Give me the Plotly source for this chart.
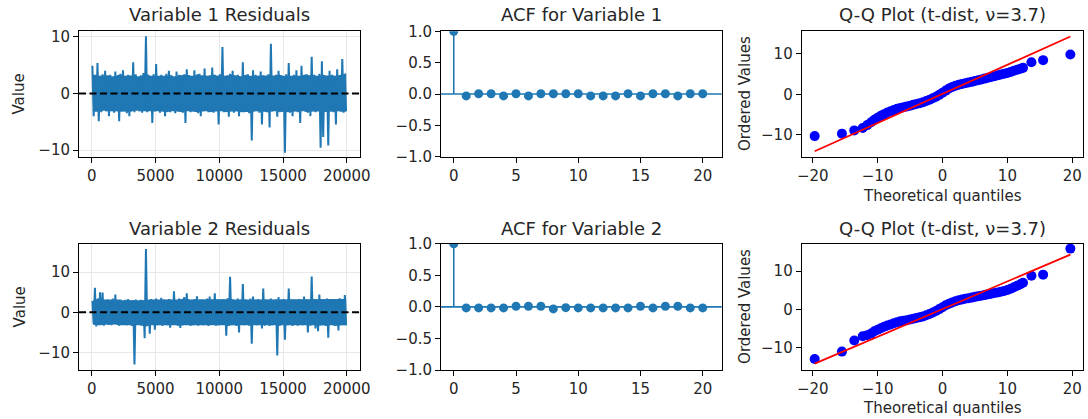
import plotly.graph_objects as go

W, H = 1088, 419

# ---------------- data ----------------
bin_size = 200  # samples per envelope bin (20000 samples / 100 bins)

v1_hi = [4.9, 3.2, 5.4, 3.0, 3.4, 4.0, 3.1, 3.3, 2.9, 3.9,
         3.2, 3.5, 4.1, 3.0, 3.3, 3.1, 5.5, 3.4, 2.9, 3.2,
         3.6, 10.1, 3.3, 3.0, 3.4, 5.2, 3.1, 3.3, 3.0, 3.5,
         4.0, 3.2, 2.9, 3.9, 3.3, 3.1, 3.4, 4.3, 3.2, 3.0,
         4.1, 3.3, 3.5, 3.1, 4.4, 3.0, 3.2, 4.6, 3.3, 3.1,
         3.4, 8.2, 3.0, 3.2, 3.5, 4.0, 3.1, 3.3, 2.9, 5.5,
         3.2, 3.4, 3.0, 4.1, 3.3, 3.1, 3.9, 3.2, 3.0, 3.4,
         8.8, 3.1, 3.3, 4.0, 3.2, 3.0, 3.4, 5.4, 3.1, 3.3,
         4.1, 3.0, 4.9, 3.2, 3.4, 3.1, 6.5, 3.3, 3.0, 3.5,
         5.7, 3.2, 3.1, 4.0, 3.3, 3.0, 4.3, 3.2, 6.1, 3.4]
v1_lo = [-4.0, -3.1, -4.9, -3.3, -2.9, -3.2, -4.0, -3.0, -3.4, -3.1,
         -4.9, -3.2, -3.0, -3.5, -4.0, -3.1, -3.3, -2.9, -3.2, -3.4,
         -3.0, -3.3, -3.1, -5.2, -3.2, -3.0, -3.4, -3.1, -4.0, -3.2,
         -3.3, -3.0, -3.5, -3.1, -3.2, -3.4, -5.2, -3.0, -3.3, -3.1,
         -3.2, -3.5, -4.0, -3.1, -3.0, -3.3, -3.2, -3.4, -3.1, -5.5,
         -3.0, -3.3, -3.2, -4.1, -3.1, -3.4, -3.0, -4.0, -3.2, -3.3,
         -3.1, -3.5, -8.3, -3.2, -3.0, -3.4, -5.5, -3.1, -3.3, -6.0,
         -3.2, -3.0, -4.1, -3.3, -3.1, -10.5, -3.2, -3.4, -4.0, -3.1,
         -3.3, -5.2, -3.0, -3.2, -3.4, -4.0, -3.1, -3.3, -3.0, -9.6,
         -7.7, -3.2, -9.2, -3.1, -3.3, -5.5, -3.0, -3.2, -3.4, -3.1]

v2_hi = [2.8, 6.1, 3.3, 5.0, 4.9, 3.0, 3.2, 2.9, 3.4, 4.4,
         3.0, 3.2, 2.8, 3.1, 3.3, 2.9, 3.0, 3.2, 2.8, 3.1,
         2.9, 15.7, 3.0, 3.3, 3.1, 3.4, 3.0, 3.6, 3.2, 3.0,
         3.3, 3.1, 5.2, 3.0, 3.4, 3.2, 3.8, 4.7, 3.1, 3.0,
         3.3, 4.0, 3.1, 3.2, 3.0, 3.4, 3.9, 3.1, 4.7, 3.2,
         3.0, 3.3, 3.1, 3.5, 8.8, 3.2, 3.0, 3.4, 3.1, 7.0,
         3.2, 3.0, 3.4, 3.9, 3.1, 3.3, 3.0, 5.9, 3.2, 3.1,
         3.4, 3.0, 3.2, 3.8, 3.1, 3.3, 3.0, 5.9, 3.2, 3.1,
         3.0, 3.3, 3.1, 3.9, 3.2, 3.0, 8.9, 3.3, 3.1, 4.4,
         3.2, 3.0, 3.4, 3.1, 3.3, 3.0, 3.2, 3.5, 3.1, 4.3]
v2_lo = [-2.9, -3.5, -3.2, -3.0, -3.3, -2.9, -3.1, -3.2, -2.8, -3.0,
         -3.3, -3.1, -2.9, -3.2, -3.0, -3.4, -12.9, -3.1, -3.0, -3.2,
         -6.4, -3.3, -5.3, -3.0, -4.3, -3.2, -3.1, -3.4, -3.0, -3.2,
         -3.8, -3.1, -3.0, -3.3, -3.9, -3.2, -3.0, -3.1, -3.4, -3.2,
         -3.0, -3.3, -3.1, -3.2, -3.0, -3.4, -3.1, -3.0, -3.3, -3.2,
         -3.1, -3.0, -5.8, -3.3, -3.2, -3.0, -3.4, -5.0, -3.1, -3.2,
         -3.0, -3.3, -7.8, -3.1, -3.2, -3.0, -4.0, -3.3, -3.1, -3.4,
         -3.2, -3.0, -10.7, -3.3, -3.1, -6.8, -3.2, -3.0, -3.4, -3.1,
         -3.3, -3.0, -3.2, -3.1, -5.0, -3.3, -3.0, -4.0, -4.7, -3.2,
         -3.1, -3.4, -6.3, -3.0, -3.2, -3.3, -4.5, -3.1, -3.0, -3.2]

acf1 = [1.0, -0.03, 0.005, 0.005, -0.03, 0.005, -0.03, 0.005, 0.005, 0.005, 0.005,
        -0.03, -0.03, -0.03, 0.005, -0.03, 0.005, 0.005, -0.03, 0.005, 0.005]
acf2 = [1.0, -0.016, -0.016, -0.016, -0.016, 0.01, 0.01, 0.01, -0.032, -0.012, -0.016,
        -0.016, -0.016, -0.016, -0.016, 0.01, -0.016, 0.01, 0.01, -0.016, -0.016]

qq1_theo = [-19.7, -15.5, -13.6, -12.3, -11.6, -11.0, -10.5, -10.0, -9.5, -9.0,
            -8.5, -8.0, -7.5, -7.0, -6.5, -6.0, -5.5, -5.0, -4.5, -4.0,
            -3.5, -3.0, -2.5, -2.0, -1.5, -1.0, -0.5, 0.0, 0.5, 1.0,
            1.5, 2.0, 2.5, 3.0, 3.5, 4.0, 4.5, 5.0, 5.5, 6.0,
            6.5, 7.0, 7.5, 8.0, 8.5, 9.0, 9.5, 10.0, 10.5, 11.0,
            11.5, 12.0, 12.4, 13.7, 15.5, 19.7]
qq1_ord = [-10.3, -9.7, -8.9, -8.3, -7.6, -6.9, -6.3, -5.8, -5.3, -4.9,
           -4.5, -4.2, -3.9, -3.6, -3.4, -3.2, -3.0, -2.85, -2.6, -2.4,
           -2.2, -1.95, -1.65, -1.35, -1.0, -0.6, -0.15, 0.35, 0.9, 1.4,
           1.8, 2.1, 2.35, 2.55, 2.7, 2.9, 3.05, 3.25, 3.45, 3.65,
           3.85, 4.05, 4.25, 4.45, 4.65, 4.85, 5.05, 5.25, 5.5, 5.8,
           6.05, 6.3, 6.5, 7.9, 8.4, 9.8]
qq1_slope, qq1_intercept = 0.717, 0.09

qq2_theo = qq1_theo
qq2_ord = [-12.95, -11.0, -8.1, -7.0, -6.7, -6.3, -5.7, -5.3, -4.9, -4.5,
           -4.2, -3.9, -3.6, -3.35, -3.1, -2.95, -2.8, -2.6, -2.4, -2.2,
           -2.0, -1.8, -1.5, -1.2, -0.8, -0.4, 0.1, 0.6, 1.1, 1.5,
           1.85, 2.15, 2.4, 2.6, 2.8, 2.95, 3.1, 3.3, 3.45, 3.6,
           3.75, 3.95, 4.1, 4.3, 4.45, 4.65, 4.85, 5.1, 5.4, 5.8,
           6.2, 6.6, 7.0, 8.8, 9.1, 15.9]
qq2_slope, qq2_intercept = 0.723, 0.1

res_ticks = [0, 5000, 10000, 15000, 20000]
res_ticktext = ["0", "5000", "10000", "15000", "20000"]
res_yticks = [-10, 0, 10]
res_yticktext = ["\u221210", "0", "10"]
acf_xticks = [0, 5, 10, 15, 20]
acf_yticks = [-1.0, -0.5, 0.0, 0.5, 1.0]
acf_yticktext = ["\u22121.0", "\u22120.5", "0.0", "0.5", "1.0"]
qq_xticks = [-20, -10, 0, 10, 20]
qq_xticktext = ["\u221220", "\u221210", "0", "10", "20"]
qq_yticks = [-10, 0, 10]
qq_yticktext = ["\u221210", "0", "10"]

titles = ["Variable 1 Residuals", "ACF for Variable 1", "Q-Q Plot (t-dist, \u03bd=3.7)",
          "Variable 2 Residuals", "ACF for Variable 2", "Q-Q Plot (t-dist, \u03bd=3.7)"]

# ---------------- styling ----------------
BLUE = "#1f77b4"
TXT = "#262626"
FONT = "DejaVu Sans"
TICK_SIZE = 15
TITLE_SIZE = 18

# panel boxes in pixels: (left, right, top, bottom)
cols = [(79, 359.5), (441, 721.7), (801.7, 1082.7)]
rows = [(31.3, 156.8), (243.8, 370)]


def sfx(a):
    return "" if a == 1 else str(a)


def xdom(c):
    return [cols[c][0] / W, cols[c][1] / W]


def ydom(r):
    return [1 - rows[r][1] / H, 1 - rows[r][0] / H]


base = dict(showline=True, linecolor="black", linewidth=1, mirror=True,
            ticks="outside", ticklen=5, tickwidth=1, tickcolor="black",
            tickfont=dict(family=FONT, size=TICK_SIZE, color=TXT), zeroline=False,
            showgrid=False, fixedrange=True, automargin=False)


def zigzag(hi, lo):
    xs, ys = [], []
    for i, (h, l) in enumerate(zip(hi, lo)):
        xs += [i * bin_size + bin_size * 0.25, i * bin_size + bin_size * 0.75]
        ys += [h, l]
    return xs, ys


def core_band(hi, lo):
    # solid body of the series: local minimum of the upper envelope / maximum of the lower
    n = len(hi)
    xs = [i * bin_size + bin_size * 0.5 for i in range(n)]
    top = [min(hi[max(0, i - 1):i + 2]) for i in range(n)]
    bot = [max(lo[max(0, i - 1):i + 2]) for i in range(n)]
    return xs + xs[::-1], top + bot[::-1]


fig = go.Figure()

# residual panels
for k, (hi, lo) in enumerate([(v1_hi, v1_lo), (v2_hi, v2_lo)]):
    s = sfx(1 + 3 * k)
    bx, by = core_band(hi, lo)
    fig.add_trace(go.Scatter(x=bx, y=by, mode="lines", fill="toself", fillcolor=BLUE,
                             line=dict(color=BLUE, width=1.5),
                             xaxis=f"x{s}", yaxis=f"y{s}", showlegend=False, hoverinfo="skip"))
    xs, ys = zigzag(hi, lo)
    fig.add_trace(go.Scatter(x=xs, y=ys, mode="lines", line=dict(color=BLUE, width=2),
                             xaxis=f"x{s}", yaxis=f"y{s}", showlegend=False, hoverinfo="skip"))

# ACF panels
for k, acf in enumerate([acf1, acf2]):
    ax = 2 + 3 * k
    sx, sy = [], []
    for lag, v in enumerate(acf):
        sx += [lag, lag, None]
        sy += [0, v, None]
    fig.add_trace(go.Scatter(x=sx, y=sy, mode="lines", line=dict(color=BLUE, width=1.6),
                             xaxis=f"x{ax}", yaxis=f"y{ax}", showlegend=False, hoverinfo="skip"))
    fig.add_trace(go.Scatter(x=list(range(len(acf))), y=acf, mode="markers",
                             marker=dict(color=BLUE, size=9),
                             xaxis=f"x{ax}", yaxis=f"y{ax}", showlegend=False, hoverinfo="skip"))

# QQ panels
for k, (th, od, sl, ic) in enumerate([(qq1_theo, qq1_ord, qq1_slope, qq1_intercept),
                                      (qq2_theo, qq2_ord, qq2_slope, qq2_intercept)]):
    ax = 3 + 3 * k
    fig.add_trace(go.Scatter(x=th, y=od, mode="markers", marker=dict(color="#0000ff", size=10),
                             xaxis=f"x{ax}", yaxis=f"y{ax}", showlegend=False, hoverinfo="skip"))
    lx = [min(th), max(th)]
    fig.add_trace(go.Scatter(x=lx, y=[sl * v + ic for v in lx], mode="lines",
                             line=dict(color="#ff0000", width=1.8),
                             xaxis=f"x{ax}", yaxis=f"y{ax}", showlegend=False, hoverinfo="skip"))

layout = dict(width=W, height=H, paper_bgcolor="white", plot_bgcolor="white",
              margin=dict(l=0, r=0, t=0, b=0, autoexpand=False), showlegend=False)

yr_res = [[-11.2, 11.0], [-14.3, 17.0]]
yr_qq = [[-15.4, 15.5], [-15.8, 17.15]]
for r in range(2):
    # residuals
    s = sfx(1 + 3 * r)
    layout[f"xaxis{s}"] = dict(base, domain=xdom(0), anchor=f"y{s}", range=[-1000, 21000],
                               tickvals=res_ticks, ticktext=res_ticktext,
                               showgrid=True, gridcolor="#e8e8e8", gridwidth=1)
    layout[f"yaxis{s}"] = dict(base, domain=ydom(r), anchor=f"x{s}", range=yr_res[r],
                               tickvals=res_yticks, ticktext=res_yticktext,
                               showgrid=True, gridcolor="#e8e8e8", gridwidth=1)
    # acf
    a = 2 + 3 * r
    layout[f"xaxis{a}"] = dict(base, domain=xdom(1), anchor=f"y{a}", range=[-1.025, 21.525],
                               tickvals=acf_xticks)
    layout[f"yaxis{a}"] = dict(base, domain=ydom(r), anchor=f"x{a}", range=[-1, 1],
                               tickvals=acf_yticks, ticktext=acf_yticktext)
    # qq
    a = 3 + 3 * r
    layout[f"xaxis{a}"] = dict(base, domain=xdom(2), anchor=f"y{a}", range=[-21.7, 21.6],
                               tickvals=qq_xticks, ticktext=qq_xticktext)
    layout[f"yaxis{a}"] = dict(base, domain=ydom(r), anchor=f"x{a}", range=yr_qq[r],
                               tickvals=qq_yticks, ticktext=qq_yticktext)

fig.update_layout(**layout)

# horizontal reference lines
for r in range(2):
    s = sfx(1 + 3 * r)
    fig.add_shape(type="line", xref=f"x{s} domain", yref=f"y{s}", x0=0, x1=1, y0=0, y1=0,
                  line=dict(color="black", width=2, dash="7px,3.5px"), layer="above")
    a = 2 + 3 * r
    fig.add_shape(type="line", xref=f"x{a} domain", yref=f"y{a}", x0=0, x1=1, y0=0, y1=0,
                  line=dict(color=BLUE, width=1.6), layer="below")

# titles and axis labels
ann = []
title_y = [15, 228]
for r in range(2):
    for c in range(3):
        ann.append(dict(text=titles[3 * r + c], x=(cols[c][0] + cols[c][1]) / 2 / W,
                        y=1 - title_y[r] / H, xref="paper", yref="paper",
                        xanchor="center", yanchor="middle", showarrow=False,
                        font=dict(family=FONT, size=TITLE_SIZE, color=TXT)))
    yc = 1 - (rows[r][0] + rows[r][1]) / 2 / H
    ann.append(dict(text="Value", x=19.5 / W, y=yc, xref="paper", yref="paper", textangle=-90,
                    xanchor="center", yanchor="middle", showarrow=False,
                    font=dict(family=FONT, size=TICK_SIZE, color=TXT)))
    ann.append(dict(text="Ordered Values", x=745 / W, y=yc, xref="paper", yref="paper",
                    textangle=-90, xanchor="center", yanchor="middle", showarrow=False,
                    font=dict(family=FONT, size=TICK_SIZE, color=TXT)))
    ann.append(dict(text="Theoretical quantiles", x=(cols[2][0] + cols[2][1]) / 2 / W,
                    y=1 - [196, 408][r] / H, xref="paper", yref="paper",
                    xanchor="center", yanchor="middle", showarrow=False,
                    font=dict(family=FONT, size=TICK_SIZE, color=TXT)))
fig.update_layout(annotations=ann)

fig.write_html("out.html", config={"displayModeBar": False},
               post_script="document.body.style.margin='0';document.body.style.overflow='hidden';")
